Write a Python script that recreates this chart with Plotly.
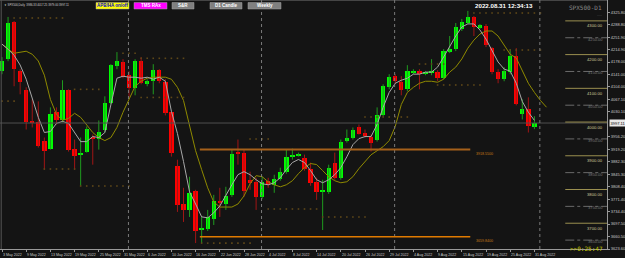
import plotly.graph_objects as go

# ---------------- data ----------------
opens = [4150.8, 4186.5, 4296.8, 4150.8, 4094.2, 4001.8, 3998.8, 3945.2, 3921.3, 4028.6,
         4004.8, 4094.2, 3921.3, 3903.4, 3912.4, 3957.1, 3951.1, 3975.0, 4055.4, 4165.7,
         4177.6, 4138.9, 4100.1, 4180.5, 4112.0, 4121.0, 4153.8, 4118.0, 4028.6, 3870.7,
         3757.4, 3739.5, 3796.2, 3679.9, 3682.9, 3712.7, 3766.4, 3757.4, 3784.2, 3912.4,
         3909.4, 3828.9, 3823.0, 3778.3, 3826.0, 3814.0, 3831.9, 3852.8, 3897.5, 3900.5,
         3894.5, 3861.7, 3823.0, 3793.2, 3793.2, 3879.6, 3834.9, 3945.2, 3954.1, 3983.9,
         3969.0, 3957.1, 3948.1, 4019.7, 4103.1, 4135.9, 4118.0, 4097.1, 4147.8, 4150.8,
         4144.8, 4147.8, 4147.8, 4129.9, 4210.4, 4216.3, 4275.9, 4293.8, 4311.7, 4278.9,
         4284.9, 4219.3, 4147.8, 4126.9, 4147.8, 4195.5, 4022.6, 4037.5, 3986.3]
highs = [4192.5, 4311.7, 4299.8, 4156.7, 4103.1, 4067.3, 4061.4, 3954.1, 4043.5, 4043.5,
         4124.0, 4097.1, 3948.1, 3954.1, 3986.9, 3963.0, 4004.8, 4076.3, 4171.6, 4207.4,
         4186.5, 4150.8, 4186.5, 4192.5, 4126.9, 4171.6, 4156.7, 4126.9, 4031.6, 3888.5,
         3805.1, 3837.9, 3799.1, 3718.7, 3739.5, 3784.2, 3805.1, 3808.1, 3918.3, 3948.1,
         3918.3, 3852.8, 3834.9, 3837.9, 3834.9, 3843.8, 3864.7, 3918.3, 3921.3, 3909.4,
         3903.4, 3879.6, 3834.9, 3828.9, 3873.6, 3909.4, 3948.1, 3977.9, 3983.9, 3992.8,
         3977.9, 3963.0, 4043.5, 4112.0, 4141.8, 4141.8, 4135.9, 4168.7, 4156.7, 4156.7,
         4150.8, 4186.5, 4153.8, 4216.3, 4255.1, 4293.8, 4305.7, 4329.6, 4314.7, 4290.8,
         4290.8, 4222.3, 4156.7, 4162.7, 4216.3, 4219.3, 4067.3, 4073.3, 4017.3]
lows = [4141.8, 4180.5, 4106.1, 4082.2, 3977.9, 3983.9, 3924.3, 3858.7, 3918.3, 3992.8,
        3998.8, 3912.4, 3858.7, 3811.1, 3909.4, 3873.6, 3918.3, 3969.0, 4052.4, 4156.7,
        4129.9, 4073.3, 4079.3, 4112.0, 4106.1, 4082.2, 4115.0, 4019.7, 3897.5, 3733.5,
        3703.8, 3718.7, 3641.2, 3641.2, 3676.9, 3694.8, 3718.7, 3739.5, 3778.3, 3873.6,
        3778.3, 3799.1, 3739.5, 3772.3, 3805.1, 3790.2, 3826.0, 3846.8, 3888.5, 3897.5,
        3855.8, 3811.1, 3769.3, 3679.9, 3787.2, 3828.9, 3828.9, 3939.2, 3948.1, 3963.0,
        3954.1, 3912.4, 3942.2, 4016.7, 4097.1, 4112.0, 4079.3, 4091.2, 4141.8, 4097.1,
        4138.9, 4138.9, 4121.0, 4126.9, 4204.4, 4210.4, 4269.9, 4290.8, 4255.1, 4275.9,
        4222.3, 4141.8, 4115.0, 4121.0, 4141.8, 4049.5, 4007.7, 3969.0, 3979.0]
closes = [4180.5, 4293.8, 4156.7, 4118.0, 3998.8, 3995.8, 3930.3, 3915.4, 4022.6, 4004.8,
          4094.2, 3918.3, 3900.5, 3909.4, 3980.9, 3951.1, 3972.0, 4055.4, 4168.7, 4180.5,
          4132.9, 4100.1, 4180.5, 4115.0, 4121.0, 4153.8, 4121.0, 4025.6, 3909.4, 3754.4,
          3739.5, 3790.2, 3676.9, 3685.9, 3718.7, 3766.4, 3760.4, 3781.3, 3906.4, 3906.4,
          3796.2, 3820.0, 3778.3, 3823.0, 3814.0, 3831.9, 3852.8, 3897.5, 3903.4, 3903.4,
          3861.7, 3820.0, 3793.2, 3796.2, 3864.7, 3834.9, 3942.2, 3954.1, 3977.9, 3966.0,
          3960.1, 3939.2, 4019.7, 4106.1, 4132.9, 4121.0, 4094.2, 4150.8, 4150.8, 4141.8,
          4147.8, 4150.8, 4129.9, 4210.4, 4216.3, 4281.9, 4296.8, 4311.7, 4281.9, 4287.9,
          4228.3, 4147.8, 4126.9, 4150.8, 4195.5, 4052.4, 4037.5, 3986.9, 3997.1]

fast_ma = [4231, 4216, 4198, 4169, 4127, 4067, 4014, 3969, 3972, 3996,
           4002, 3996, 3969, 3942, 3942, 3957, 3954, 3969, 4052, 4130,
           4136, 4133, 4133, 4130, 4133, 4127, 4133, 4121, 4032, 3966,
           3883, 3793, 3757, 3719, 3716, 3731, 3751, 3784, 3814, 3844,
           3853, 3844, 3829, 3817, 3814, 3820, 3835, 3859, 3880, 3889,
           3880, 3856, 3829, 3820, 3829, 3844, 3865, 3897, 3933, 3951,
           3957, 3957, 3993, 4044, 4088, 4115, 4124, 4130, 4142, 4142,
           4148, 4148, 4163, 4193, 4225, 4255, 4282, 4291, 4291, 4273,
           4246, 4210, 4178, 4157, 4151, 4115, 4061, 4029, 4005]
slow_ma = [4231, 4216, 4204, 4207, 4210, 4201, 4181, 4139, 4067, 4023,
           4005, 4011, 4026, 4014, 3993, 3969, 3954, 3945, 3954, 3984,
           4029, 4070, 4106, 4121, 4130, 4133, 4133, 4133, 4127, 4103,
           4064, 3990, 3915, 3859, 3805, 3763, 3748, 3748, 3748, 3757,
           3781, 3817, 3841, 3838, 3823, 3814, 3808, 3814, 3826, 3847,
           3865, 3877, 3874, 3856, 3838, 3826, 3820, 3823, 3838, 3862,
           3883, 3903, 3915, 3927, 3945, 3987, 4052, 4088, 4103, 4115,
           4121, 4121, 4118, 4127, 4148, 4163, 4187, 4219, 4243, 4261,
           4270, 4270, 4255, 4228, 4201, 4190, 4154, 4115, 4088, 4064, 4044]

date_labels = ["3 May 2022", "9 May 2022", "13 May 2022", "19 May 2022", "25 May 2022",
               "31 May 2022", "6 Jun 2022", "10 Jun 2022", "16 Jun 2022", "22 Jun 2022",
               "28 Jun 2022", "4 Jul 2022", "8 Jul 2022", "14 Jul 2022", "20 Jul 2022",
               "26 Jul 2022", "29 Jul 2022", "4 Aug 2022", "9 Aug 2022", "15 Aug 2022",
               "19 Aug 2022", "25 Aug 2022", "31 Aug 2022"]
month_start_bars = [21, 43, 65, 89]

price_ticks = [4325.80, 4288.80, 4251.90, 4214.90, 4178.00, 4141.00, 4104.00, 4067.10,
               4030.10, 3956.20, 3919.20, 3882.30, 3845.30, 3808.40, 3771.40, 3734.40,
               3697.50, 3660.50, 3623.60]
last_price = 3997.11
round_levels = [4300, 4200, 4100, 4000, 3900, 3800, 3700]
half_levels = [4250, 4150, 4050, 3950, 3850, 3750, 3650]

# dotted level markers: (first bar, last bar, price)
dot_levels = [(2, 10, 4308.5), (78, 89, 4323.3), (83, 89, 4213.6), (20, 22, 4204.0),
              (23, 30, 4189.0), (23, 30, 4073.0), (12, 16, 4097.0), (0, 2, 4062.0),
              (7, 12, 3860.8), (13, 21, 3810.4), (41, 44, 3949.8), (44, 52, 3742.2),
              (53, 60, 3718.5), (33, 41, 3641.0), (69, 73, 4172.0), (72, 79, 4109.9),
              (60, 67, 4015.0)]
sr_levels = [3918.55, 3659.84]
sr_labels = ["3918.5500", "3659.8400"]

# ---------------- figure ----------------
BG = "#141414"
n = len(opens)
idx = list(range(n))
XMIN, XMAX = -0.33, 100.0
YMIN, YMAX = 3623.6, 4361.9
PW, PH = 607.0, 249.0  # plot area in px


def px(xp):
    return xp / PW


def py(yp):
    return 1 - yp / PH


fig = go.Figure()

# wicks
for up, col in [(True, "#1f9a1f"), (False, "#a01515")]:
    xs, ys = [], []
    for i in idx:
        if (closes[i] >= opens[i]) == up:
            xs += [i, i, None]
            ys += [lows[i], highs[i], None]
    fig.add_trace(go.Scatter(x=xs, y=ys, mode="lines", line=dict(color=col, width=1),
                             hoverinfo="skip", showlegend=False))

# bodies
body_base = [min(o, c) for o, c in zip(opens, closes)]
body_h = [max(abs(c - o), 2.5) for o, c in zip(opens, closes)]
body_col = ["#00ff00" if c >= o else "#ff0000" for o, c in zip(opens, closes)]
fig.add_trace(go.Bar(x=idx, y=body_h, base=body_base, width=0.72,
                     marker=dict(color=body_col, line=dict(width=0)),
                     showlegend=False, hoverinfo="skip"))

# moving averages
fig.add_trace(go.Scatter(x=list(range(len(slow_ma))), y=slow_ma, mode="lines",
                         line=dict(color="#8f8a00", width=1), showlegend=False))
fig.add_trace(go.Scatter(x=idx, y=fast_ma, mode="lines",
                         line=dict(color="#a8a8a8", width=1), showlegend=False))

# dotted level markers
for a, b, p in dot_levels:
    fig.add_trace(go.Scatter(x=list(range(a, b + 1)), y=[p] * (b - a + 1), mode="markers",
                             marker=dict(color="#5e4718", size=1.6, symbol="square"),
                             showlegend=False, hoverinfo="skip"))

shapes = []
# current price line
shapes.append(dict(type="line", xref="paper", yref="y", x0=0, x1=1, y0=last_price, y1=last_price,
                   line=dict(color="#505050", width=1)))
# month separators
for m in month_start_bars:
    shapes.append(dict(type="line", xref="x", yref="paper", x0=m - 0.1, x1=m - 0.1, y0=0, y1=1,
                       line=dict(color="#7a7a7a", width=1, dash="dot")))
# S/R lines
shapes.append(dict(type="line", xref="x", yref="y", x0=32.7, x1=77.4, y0=sr_levels[0], y1=sr_levels[0],
                   line=dict(color="#a5601a", width=2)))
shapes.append(dict(type="line", xref="x", yref="y", x0=32.7, x1=77.4, y0=sr_levels[1], y1=sr_levels[1],
                   line=dict(color="#e07a00", width=1.5)))
# right-side round levels
for lv in round_levels:
    shapes.append(dict(type="line", xref="x", yref="y", x0=93.1, x1=100, y0=lv, y1=lv,
                       line=dict(color="#9a8f50", width=1)))
for lv in half_levels:
    shapes.append(dict(type="line", xref="x", yref="y", x0=93.1, x1=100, y0=lv, y1=lv,
                       line=dict(color="#6a6a6a", width=1, dash="dashdot")))
# frame lines
shapes.append(dict(type="line", xref="paper", yref="paper", x0=0, x1=1, y0=1, y1=1,
                   line=dict(color="#777", width=1)))
shapes.append(dict(type="line", xref="paper", yref="paper", x0=0.002, x1=0.002, y0=0, y1=1,
                   line=dict(color="#555", width=1)))

annotations = []
FONT = "Liberation Sans, Arial, sans-serif"
# buttons
buttons = [("APB/HA on/off", 96, 129, "#ffff00", "#0000cc"),
           ("TMS RAx", 134, 167, "#ff00ff", "#ffffff"),
           ("S&R", 172, 194, "#808080", "#ffffff"),
           ("D1 Candle", 210, 242, "#808080", "#ffffff"),
           ("Weekly", 248, 281, "#808080", "#ffffff")]
for txt, x0, x1, bg, fg in buttons:
    shapes.append(dict(type="rect", xref="paper", yref="paper", x0=px(x0), x1=px(x1),
                       y0=py(9), y1=py(2.5), fillcolor=bg, line=dict(color="#a0a0a0", width=0.5),
                       layer="above"))
    annotations.append(dict(xref="paper", yref="paper", x=px((x0 + x1) / 2), y=py(5.8),
                            text="<b>%s</b>" % txt, showarrow=False, xanchor="center",
                            yanchor="middle", font=dict(size=4.5, color=fg, family=FONT)))

annotations.append(dict(xref="paper", yref="paper", x=px(2), y=py(4.5), xanchor="left",
                        yanchor="middle", showarrow=False,
                        text="▼ SPX500,Daily  3986.33 4017.25 3979.00 3997.11",
                        font=dict(size=2.8, color="#d0d0d0", family=FONT)))
annotations.append(dict(xref="paper", yref="paper", x=px(535), y=py(6), xanchor="right",
                        yanchor="middle", showarrow=False, text="<b>2022.08.31 12:34:13</b>",
                        font=dict(size=6.2, color="#ffffff", family=FONT)))
annotations.append(dict(xref="paper", yref="paper", x=px(604), y=py(7.5), xanchor="right",
                        yanchor="middle", showarrow=False, text="SPX500-D1",
                        font=dict(size=6, color="#8a8a8a", family="DejaVu Sans Mono, monospace")))
annotations.append(dict(xref="paper", yref="paper", x=px(604), y=py(15.5), xanchor="right",
                        yanchor="middle", showarrow=False, text="·····",
                        font=dict(size=3, color="#8a8a8a", family=FONT)))
annotations.append(dict(xref="paper", yref="paper", x=px(605), y=py(248), xanchor="right",
                        yanchor="middle", showarrow=False, text=">>0:25:47",
                        font=dict(size=6, color="#c8c800", family="DejaVu Sans Mono, monospace")))
# level labels
for lv in round_levels:
    annotations.append(dict(xref="x", yref="y", x=99.6, y=lv, xanchor="right", yanchor="top",
                            yshift=-0.5, showarrow=False, text="%.2f" % lv,
                            font=dict(size=4.2, color="#cfc79a", family=FONT)))
for lv in half_levels:
    annotations.append(dict(xref="x", yref="y", x=99.6, y=lv, xanchor="right", yanchor="middle",
                            yshift=-1.5, showarrow=False, text="%.2f" % lv,
                            font=dict(size=4, color="#7a7a7a", family=FONT)))
# S/R labels
for lv, t in zip(sr_levels, sr_labels):
    annotations.append(dict(xref="x", yref="y", x=78.0, y=lv, xanchor="left", yanchor="top",
                            showarrow=False, text=t, yshift=-0.5,
                            font=dict(size=3.6, color="#c87814", family=FONT)))
# price box
annotations.append(dict(xref="paper", yref="y", x=1.0, y=last_price, xanchor="left",
                        yanchor="middle", xshift=2, showarrow=False, text="3997.11",
                        bgcolor="#e8e8e8", borderpad=0.5,
                        font=dict(size=4, color="#000000", family=FONT)))
# date labels
for k, t in enumerate(date_labels):
    annotations.append(dict(xref="x", yref="paper", x=4 * k - 0.2, y=0, xanchor="left",
                            yanchor="top", yshift=-1.5, showarrow=False, text=t,
                            font=dict(size=3.6, color="#c8c8c8", family=FONT)))

fig.update_layout(
    width=625, height=258,
    margin=dict(l=0, r=18, t=0, b=9),
    paper_bgcolor=BG, plot_bgcolor=BG,
    bargap=0, showlegend=False,
    shapes=shapes, annotations=annotations,
    xaxis=dict(range=[XMIN, XMAX], showgrid=False, zeroline=False, showline=True,
               linecolor="#999", linewidth=1, tickvals=[4 * k for k in range(len(date_labels))],
               ticks="outside", ticklen=2, tickcolor="#999", showticklabels=False,
               fixedrange=True),
    yaxis=dict(range=[YMIN, YMAX], side="right", showgrid=False, zeroline=False,
               showline=True, linecolor="#999", linewidth=1, tickvals=price_ticks,
               ticktext=["%.2f" % v for v in price_ticks], ticks="outside", ticklen=2,
               tickcolor="#999", tickfont=dict(size=4, color="#c8c8c8", family=FONT),
               automargin=False, fixedrange=True),
)

fig.write_html("out.html")
